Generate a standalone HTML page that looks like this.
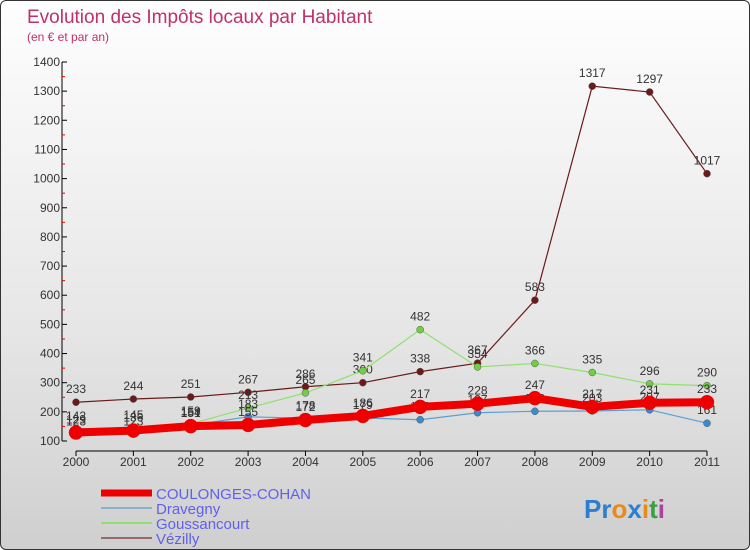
<!DOCTYPE html>
<html><head><meta charset="utf-8"><style>
body{margin:0;width:750px;height:550px;overflow:hidden;font-family:"Liberation Sans",sans-serif}
#wrap{position:absolute;left:0;top:0;width:748px;height:548px;border:1px solid #333;border-radius:6px;background:linear-gradient(#fefefe,#e6e6e6 60%,#cfcfcf);overflow:hidden}
</style></head><body>
<div id="wrap">
<svg id="chart" width="750" height="550" style="position:absolute;left:0;top:0">
<text x="26" y="22" font-size="19" fill="#c0306a">Evolution des Impôts locaux par Habitant</text>
<text x="26" y="40" font-size="12" fill="#c0306a">(en € et par an)</text>
<g id="axes"></g><g id="series"></g><g id="legend"></g>
<text x="583" y="517" font-size="26" font-weight="bold"><tspan fill="#2a7fd0">Pr</tspan><tspan fill="#e88a1a">o</tspan><tspan fill="#2a7fd0">x</tspan><tspan fill="#e88a1a">i</tspan><tspan fill="#3aa040">t</tspan><tspan fill="#b040a0">i</tspan></text>
</svg>
</div>
<script>
const years=[2000,2001,2002,2003,2004,2005,2006,2007,2008,2009,2010,2011];
const yTicks=[100,200,300,400,500,600,700,800,900,1000,1100,1200,1300,1400];
const coulonges=[129,136,151,155,172,186,217,228,247,217,231,233];
const dravegny=[142,145,154,183,178,179,173,197,202,203,207,161];
const goussancourt=[123,123,159,213,265,341,482,354,366,335,296,290];
const vezilly=[233,244,251,267,286,300,338,367,583,1317,1297,1017];
const NS="http://www.w3.org/2000/svg";
const X=i=>75+i*(706-75)/(years.length-1);
const Y=v=>440-(v-100)*(440-61)/1300;
function mk(t,a,p){const e=document.createElementNS(NS,t);for(const k in a)e.setAttribute(k,a[k]);p.appendChild(e);return e;}
const axes=document.getElementById('axes');
let ax=mk('line',{x1:61,y1:61,x2:61,y2:440,stroke:'#000'},axes);


yTicks.forEach((v,i)=>{
 mk('line',{x1:61,x2:66,y1:Y(v),y2:Y(v),stroke:'#000'},axes);
 if(i<yTicks.length-1)mk('line',{x1:61,x2:64,y1:Y(v+50),y2:Y(v+50),stroke:'#e00'},axes);
 const t=mk('text',{x:59,y:Y(v)+4,'font-size':12,'text-anchor':'end',fill:'#333'},axes);t.textContent=v;
 
 
});
let xa=mk('line',{x1:75,y1:450,x2:706,y2:450,stroke:'#000'},axes);


years.forEach((y,i)=>{
 mk('line',{x1:X(i),x2:X(i),y1:450,y2:455,stroke:'#000'},axes);
 const t=mk('text',{x:X(i),y:465,'font-size':12,'text-anchor':'middle',fill:'#333'},axes);t.textContent=y;
 
 
});
const S=document.getElementById('series');
const series=[
 {d:vezilly,c:'#6b1a1a',w:1.2,r:3.5,name:'vezilly'},
 {d:goussancourt,c:'#90e070',w:1.2,r:3.5,fc:'#70d040',name:'goussancourt'},
 {d:dravegny,c:'#5aa0d0',w:1.2,r:3.5,fc:'#3a8ad0',name:'dravegny'},
 {d:coulonges,c:'#ee0000',w:8,r:7,name:'coulonges-cohan'}];
series.forEach(s=>{
 const g=mk('g',{},S);
 
 
 const pl=mk('polyline',{points:s.d.map((v,i)=>X(i)+','+Y(v)).join(' '),fill:'none',stroke:s.c,'stroke-width':s.w},g);
 
 
 s.d.forEach((v,i)=>{
  const c=mk('circle',{cx:X(i),cy:Y(v),r:s.r,fill:s.fc||s.c,stroke:s.name=='coulonges-cohan'?'#e00':'#555','stroke-width':0.5},g);
  
  
  const t=mk('text',{x:X(i),y:Y(v)-9,'font-size':12,'text-anchor':'middle',fill:'#333'},g);t.textContent=v;
  
  
 });
});
const L=document.getElementById('legend');
[['COULONGES-COHAN','#ee0000',7],['Dravegny','#8ab0cc',2],['Goussancourt','#90e070',2],['Vézilly','#9a6a6a',2]].forEach((e,i)=>{
 const y=492+i*15;
 const ln=mk('line',{x1:100,x2:151,y1:y,y2:y,stroke:e[1],'stroke-width':e[2]},L);
 
 
 const t=mk('text',{x:155,y:y+6,'font-size':15,fill:'#6060ee'},L);t.textContent=e[0];
 
 
});
</script>
</body></html>
